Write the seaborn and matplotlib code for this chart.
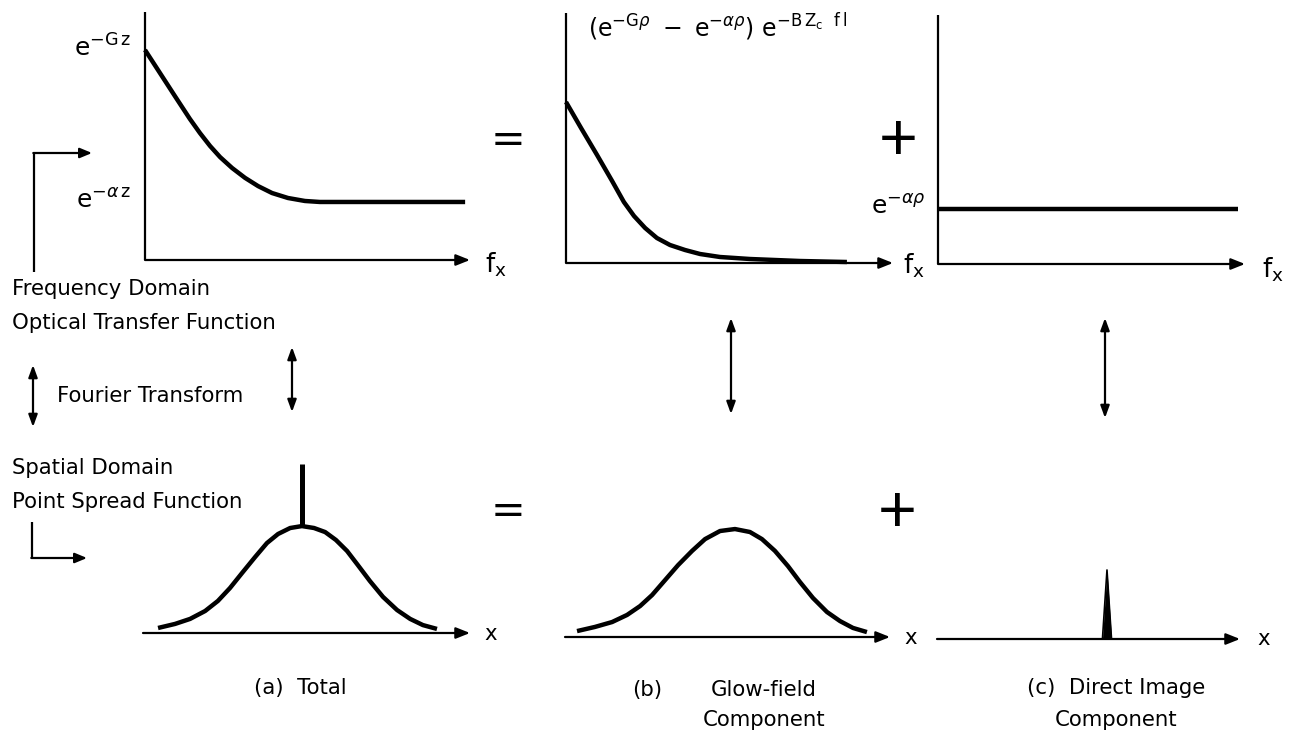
import matplotlib
matplotlib.use("Agg")
import matplotlib.pyplot as plt
import seaborn as sns
import numpy as np
import pandas as pd

sns.set_theme(style="white")
plt.rcParams['font.family'] = ['DejaVu Sans']
plt.rcParams['mathtext.fontset'] = 'dejavusans'
plt.rcParams['text.color'] = 'black'

# ---------------- data (axis-fraction units) ----------------
# (a) total OTF, frequency domain
otf_total_f = [0.0, 0.046, 0.092, 0.138, 0.169, 0.200, 0.231, 0.268, 0.308, 0.348,
               0.391, 0.440, 0.492, 0.538, 0.985]
otf_total_v = [0.847, 0.754, 0.661, 0.569, 0.512, 0.460, 0.415, 0.371, 0.331, 0.298,
               0.270, 0.250, 0.238, 0.234, 0.234]
# (b) glow-field OTF
otf_glow_f = [0.0, 0.046, 0.095, 0.141, 0.177, 0.208, 0.242, 0.278, 0.318, 0.364,
              0.410, 0.471, 0.563, 0.716, 0.859]
otf_glow_v = [0.644, 0.540, 0.432, 0.328, 0.244, 0.188, 0.140, 0.100, 0.072, 0.052,
              0.036, 0.024, 0.016, 0.008, 0.004]
# (c) direct-image OTF (constant)
otf_direct_f = [0.0, 0.977]
otf_direct_v = [0.221, 0.221]

# (a) total PSF, spatial domain
psf_total_x = [0.046, 0.098, 0.144, 0.190, 0.229, 0.266, 0.303, 0.343, 0.379, 0.413,
               0.450, 0.486, 0.523, 0.557, 0.590, 0.624, 0.657, 0.694, 0.734, 0.777,
               0.817, 0.856, 0.899]
psf_total_v = [0.026, 0.047, 0.073, 0.114, 0.166, 0.233, 0.311, 0.394, 0.466, 0.513,
               0.544, 0.554, 0.544, 0.523, 0.482, 0.425, 0.352, 0.269, 0.187, 0.119,
               0.073, 0.041, 0.021]
psf_total_spike_x = [0.486, 0.486]
psf_total_spike_v = [0.554, 0.876]
# (b) glow-field PSF
psf_glow_x = [0.037, 0.092, 0.145, 0.191, 0.231, 0.268, 0.308, 0.348, 0.391, 0.431,
              0.477, 0.523, 0.569, 0.606, 0.646, 0.686, 0.723, 0.763, 0.806, 0.846,
              0.886, 0.929]
psf_glow_v = [0.030, 0.051, 0.076, 0.112, 0.157, 0.213, 0.289, 0.365, 0.437, 0.497,
              0.538, 0.548, 0.533, 0.497, 0.437, 0.360, 0.279, 0.198, 0.127, 0.081,
              0.046, 0.025]
# (c) direct-image PSF (delta spike)
psf_direct_x = [0.0, 0.546, 0.561, 0.576, 0.977]
psf_direct_v = [0.0, 0.0, 0.347, 0.0, 0.0]

captions = ["(a)  Total", "(b)", "Glow-field", "Component", "(c)  Direct Image", "Component"]

# ---------------- figure ----------------
W, H = 1293, 737
fig = plt.figure(figsize=(W / 100, H / 100), dpi=100)
fig.patch.set_facecolor("white")

ov = fig.add_axes([0, 0, 1, 1])
ov.set_xlim(0, W)
ov.set_ylim(H, 0)
ov.axis("off")


def rect(l, t, r, b):
    return [l / W, 1 - b / H, (r - l) / W, (b - t) / H]


def panel(l, t, r, b, yaxis=True):
    ax = fig.add_axes(rect(l, t, r, b))
    ax.set_xlim(0, 1)
    ax.set_ylim(0, 1)
    ax.patch.set_alpha(0)
    for s in ax.spines.values():
        s.set_visible(False)
    ax.set_xticks([])
    ax.set_yticks([])
    ax.annotate("", xy=(1, 0), xytext=(0, 0), xycoords="axes fraction",
                arrowprops=dict(arrowstyle="-|>,head_length=0.7,head_width=0.28",
                                lw=1.6, color="black", shrinkA=0, shrinkB=0))
    if yaxis:
        ax.plot([0, 0], [0, 1], color="black", lw=1.6, transform=ax.transAxes, clip_on=False)
    return ax


def curve(ax, x, y, lw=3.2):
    sns.lineplot(x=x, y=y, ax=ax, color="black", lw=lw, sort=False,
                 estimator=None, legend=False)
    for ln in ax.lines:
        ln.set_clip_on(False)
        ln.set_solid_capstyle("butt")
        ln.set_solid_joinstyle("round")
    ax.set_xlabel("")
    ax.set_ylabel("")


# top row
axA = panel(145, 12, 470, 260)
curve(axA, otf_total_f, otf_total_v)
axB = panel(566, 13, 893, 263)
curve(axB, otf_glow_f, otf_glow_v)
axC = panel(938, 15, 1245, 264)
curve(axC, otf_direct_f, otf_direct_v)

# bottom row
axD = panel(143, 440, 470, 633, yaxis=False)
curve(axD, psf_total_x, psf_total_v)
curve(axD, psf_total_spike_x, psf_total_spike_v, lw=3.6)
axE = panel(565, 440, 890, 637, yaxis=False)
curve(axE, psf_glow_x, psf_glow_v)
axF = panel(937, 440, 1240, 639, yaxis=False)
curve(axF, psf_direct_x, psf_direct_v, lw=1.2)
axF.fill_between(psf_direct_x, psf_direct_v, 0, color="black", lw=0)

# ---------------- annotations ----------------
fs = 15.3
fsm = 18
ov.text(131, 48, r"$\mathrm{e}^{-\mathrm{G}\,\mathrm{z}}$", fontsize=fsm, ha="right", va="center")
ov.text(131, 201, r"$\mathrm{e}^{-\alpha\,\mathrm{z}}$", fontsize=fsm, ha="right", va="center")
ov.text(588, 27, r"$(\mathrm{e}^{-\mathrm{G}\rho}\ -\ \mathrm{e}^{-\alpha\rho})\ \mathrm{e}^{-\mathrm{B\,Z_c\ \ f\,l}}$",
        fontsize=17, ha="left", va="center")
ov.text(926, 207, r"$\mathrm{e}^{-\alpha\rho}$", fontsize=fsm, ha="right", va="center")

for xx, yy in [(485, 265), (903, 266), (1262, 270)]:
    ov.text(xx, yy, r"$\mathrm{f_x}$", fontsize=19, ha="left", va="center")
for xx, yy in [(484, 634), (904, 638), (1257, 639)]:
    ov.text(xx, yy, "x", fontsize=fs, ha="left", va="center")

ov.text(508, 140, "=", fontsize=30, ha="center", va="center")
ov.text(508, 511, "=", fontsize=30, ha="center", va="center")
ov.text(898, 143, "+", fontsize=48, ha="center", va="center", family="Liberation Sans")
ov.text(897, 515, "+", fontsize=48, ha="center", va="center", family="Liberation Sans")

ov.text(12, 289, "Frequency Domain", fontsize=fs, ha="left", va="center")
ov.text(12, 323, "Optical Transfer Function", fontsize=fs, ha="left", va="center")
ov.text(57, 396, "Fourier Transform", fontsize=fs, ha="left", va="center")
ov.text(12, 468, "Spatial Domain", fontsize=fs, ha="left", va="center")
ov.text(12, 502, "Point Spread Function", fontsize=fs, ha="left", va="center")

ov.text(300, 688, captions[0], fontsize=fs, ha="center", va="center")
ov.text(647, 690, captions[1], fontsize=fs, ha="center", va="center")
ov.text(764, 690, captions[2], fontsize=fs, ha="center", va="center")
ov.text(764, 720, captions[3], fontsize=fs, ha="center", va="center")
ov.text(1116, 688, captions[4], fontsize=fs, ha="center", va="center")
ov.text(1116, 720, captions[5], fontsize=fs, ha="center", va="center")

# double arrows (Fourier transform pairs)
dbl = dict(arrowstyle="<|-|>,head_length=0.6,head_width=0.22", lw=1.6, color="black",
           shrinkA=0, shrinkB=0)
for xx, y0, y1 in [(33, 365, 427), (292, 347, 412), (731, 318, 414), (1105, 318, 418)]:
    ov.annotate("", xy=(xx, y0), xytext=(xx, y1), xycoords="data", arrowprops=dbl)

# elbow arrows on left
one = dict(arrowstyle="-|>,head_length=0.6,head_width=0.25", lw=1.6, color="black",
           shrinkA=0, shrinkB=0)
ov.plot([34, 34], [272, 153], color="black", lw=1.6, solid_capstyle="butt")
ov.annotate("", xy=(92, 153), xytext=(33.3, 153), arrowprops=one)
ov.plot([32, 32], [522, 558], color="black", lw=1.6, solid_capstyle="butt")
ov.annotate("", xy=(87, 558), xytext=(31.3, 558), arrowprops=one)

fig.savefig("out.png", dpi=100, facecolor="white")
